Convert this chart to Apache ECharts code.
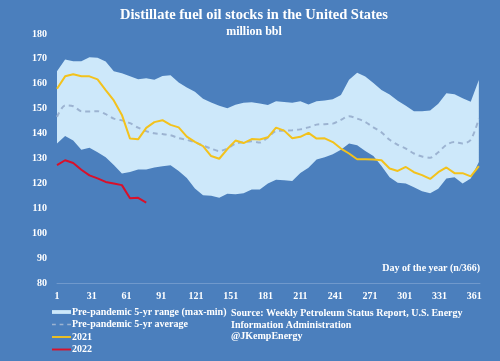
<!DOCTYPE html>
<html><head><meta charset="utf-8">
<script src="https://cdn.jsdelivr.net/npm/echarts@6/dist/echarts.min.js"></script>
<style>html,body{margin:0;padding:0;background:#4b7fbd}#c{width:500px;height:361px}</style>
</head><body><div id="c"></div>
<script>
// Weekly observations: day of year
const days = [1,8,15,22,29,36,43,50,57,64,71,78,85,92,99,106,113,120,127,134,141,148,155,162,169,176,183,190,197,204,211,218,225,232,239,246,253,260,267,274,281,288,295,302,309,316,323,330,337,344,351,358,365];
const rangeMax = [165,169.8,169.1,169.1,170.7,170.5,169,165,164.2,163,161.8,162.2,161.6,163.1,163.4,160.5,158.5,156.8,154,152.5,151.2,150.2,151.6,152.4,152.6,152.1,151.5,153,152.7,152.4,153,151.7,153,153.3,153.8,155.5,161.6,164.4,162.9,160.3,157.5,155.7,153.2,151.2,149,149,149.3,152,156.2,155.8,154.2,152.8,161.5];
const rangeMin = [136,139,137.2,133.5,134.3,132.5,130.5,127.4,124,124.6,125.6,125.6,126.4,126.9,127.3,125,122.2,118,115.2,115,114.2,115.8,115.6,116,117.6,117.6,120,121.5,121.3,121,124.2,126.3,129.6,130.5,131.7,133.5,136,135.3,133,131,127,122.5,120.3,120,118.5,116.8,116,117.9,122,122.5,120,122,128.6];
const avg5yr = [146.7,151.3,151,149,148.9,149,147.8,146,145.3,144.2,142.4,141,140.1,139.8,139.3,138.2,137.5,136.5,135.2,134,133,134,136,136.5,136.9,136.4,138.5,141,141.2,141.3,141.7,142.5,143.6,143.8,144,145.5,147,146,144.7,142.5,140.5,137.5,135.5,134,132,130.8,130.3,132.5,135.5,136.6,136,137.5,146];
const y2021 = [158,163,163.8,163,163,161.8,157.5,153.3,147.5,138,137.7,142.3,144.6,145.4,143.5,142.5,138.8,136.7,135,131,129.9,133.8,137.2,136.2,137.8,137.6,138.5,142.4,141.2,138.1,138.7,140.3,138,138.1,136.6,134,132,129.7,129.7,129.6,129.3,126,125,126.6,124.5,123.3,121.8,124.5,126.4,124.1,124.1,122.8,126.9];
const y2022 = [127.3,129.3,128.2,125.5,123.2,122,120.6,120,119.3,114,114.2,112.3];
const xTicks = [1,31,61,91,121,151,181,211,241,271,301,331,361];

const BG = '#4b7fbd', BAND = '#cde8fa', AVG = '#9cb3d1', C21 = '#f3c21c', C22 = '#d9102a';
const pair = (arr) => arr.map((v, i) => [days[i], v]);
const bandData = days.map((d, i) => [d, rangeMin[i], rangeMax[i]]);
const FONT = "Liberation Serif";
const chart = echarts.init(document.getElementById('c'), null, {renderer: 'canvas'});
chart.setOption({
  backgroundColor: BG,
  animation: false,
  textStyle: {fontFamily: FONT},
  title: {
    text: 'Distillate fuel oil stocks in the United States',
    subtext: 'million bbl',
    left: 249, top: 3, textAlign: 'center', itemGap: 3,
    textStyle: {color: '#ffffff', fontFamily: FONT, fontWeight: 'bold', fontSize: 14.5},
    subtextStyle: {color: '#ffffff', fontFamily: FONT, fontWeight: 'bold', fontSize: 12}
  },
  grid: {left: 57, right: 20, top: 34, bottom: 78, containLabel: false},
  xAxis: {
    type: 'value', min: 1, max: 366, z: 10,
    axisLine: {show: true, lineStyle: {color: '#7099cc', width: 1}},
    axisTick: {show: false},
    splitLine: {show: false},
    axisLabel: {customValues: xTicks, color: '#ffffff', fontFamily: FONT, fontWeight: 'bold', fontSize: 10, margin: 8}
  },
  yAxis: {
    type: 'value', min: 80, max: 180, interval: 10,
    axisLine: {show: false}, axisTick: {show: false}, splitLine: {show: false},
    axisLabel: {color: '#ffffff', fontFamily: FONT, fontWeight: 'bold', fontSize: 10, margin: 10}
  },
  legend: {
    orient: 'vertical', left: 52, top: 307, itemGap: 2.5, itemWidth: 19, itemHeight: 10, padding: 0,
    textStyle: {color: '#ffffff', fontFamily: FONT, fontWeight: 'bold', fontSize: 10, padding: [0,0,0,-4]},
    data: [
      {name: 'Pre-pandemic 5-yr range (max-min)', icon: 'path://M0,3H20V7H0Z', itemStyle: {color: BAND}},
      {name: 'Pre-pandemic 5-yr average', icon: 'path://M0,4.2H4V5.8H0ZM8,4.2H12V5.8H8ZM16,4.2H20V5.8H16Z', itemStyle: {color: AVG}},
      {name: '2021', icon: 'path://M0,4H20V6H0Z', itemStyle: {color: C21}},
      {name: '2022', icon: 'path://M0,4H20V6H0Z', itemStyle: {color: C22}}
    ]
  },
  series: [
    {name: 'Pre-pandemic 5-yr range (max-min)', type: 'custom', data: bandData, z: 1, clip: true,
     itemStyle: {color: BAND},
     encode: {x: 0, y: [1, 2]},
     renderItem: function (params, api) {
       if (params.dataIndex !== 0) return null;
       const upper = bandData.map(r => api.coord([r[0], r[2]]));
       const lower = bandData.map(r => api.coord([r[0], r[1]])).reverse();
       return {type: 'polygon', shape: {points: upper.concat(lower)}, style: {fill: BAND}};
     }},
    {name: 'Pre-pandemic 5-yr average', type: 'line', data: pair(avg5yr), symbol: 'none', smooth: 0.3,
     itemStyle: {color: AVG},
     lineStyle: {color: AVG, width: 2, type: [5, 4]}, z: 3},
    {name: '2021', type: 'line', data: pair(y2021), symbol: 'none',
     itemStyle: {color: C21}, lineStyle: {color: C21, width: 2}, z: 4},
    {name: '2022', type: 'line', data: pair(y2022), symbol: 'none',
     itemStyle: {color: C22}, lineStyle: {color: C22, width: 2}, z: 5}
  ],
  graphic: [
    {type: 'text', right: 20, top: 263, style: {text: 'Day of the year (n/366)', fill: '#ffffff', font: 'bold 10px "Liberation Serif"'}},
    {type: 'text', left: 231, top: 308, style: {text: 'Source: Weekly Petroleum Status Report, U.S. Energy\nInformation Administration\n@JKempEnergy', fill: '#ffffff', font: 'bold 10px "Liberation Serif"', lineHeight: 11.5}}
  ]
});
</script></body></html>
